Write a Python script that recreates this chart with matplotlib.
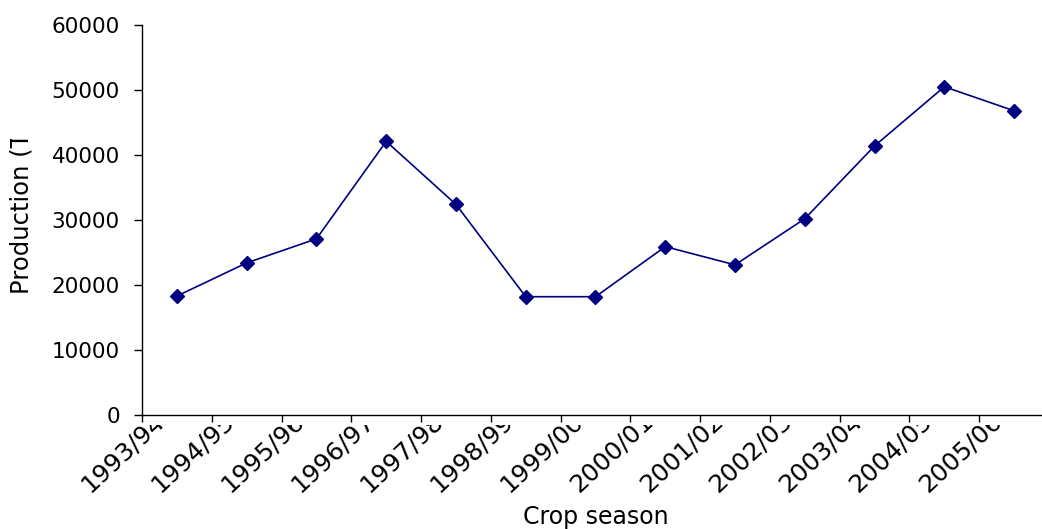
import matplotlib.pyplot as plt
from matplotlib.transforms import Bbox, ScaledTranslation, blended_transform_factory
from matplotlib.ticker import FixedLocator, MultipleLocator, NullFormatter

# Data
seasons = ['1993/94', '1994/95', '1995/96', '1996/97', '1997/98', '1998/99',
           '1999/00', '2000/01', '2001/02', '2002/03', '2003/04', '2004/05',
           '2005/06']
production = [18300, 23400, 27100, 42100, 32400, 18200, 18200,
              25900, 23100, 30200, 41400, 50500, 46800]

W, H = 1042, 529
plt.rcParams['font.family'] = ['DejaVu Sans']

fig = plt.figure(figsize=(W / 100, H / 100), dpi=100)
# axes right edge runs slightly past the picture, like the source image
ax = fig.add_axes([142 / W, 1 - 415 / H, 907 / W, 390 / H])

x = list(range(len(seasons)))
ax.plot(x, production, color='#000080', lw=1.2, marker='D', ms=7,
        markerfacecolor='#000080', markeredgecolor='#000080')

ax.set_xlim(-0.5, len(seasons) - 0.5)
ax.set_ylim(0, 60000)
ax.yaxis.set_major_locator(MultipleLocator(10000))
ax.tick_params(axis='y', direction='out', length=6, width=1, pad=10,
               labelsize=15.5)

# x ticks sit between categories, labels drawn separately
ax.xaxis.set_major_locator(FixedLocator([i - 0.5 for i in range(len(seasons) + 1)]))
ax.xaxis.set_major_formatter(NullFormatter())
ax.tick_params(axis='x', direction='out', length=5, width=1)

for s in ['top', 'right']:
    ax.spines[s].set_visible(False)
for s in ['left', 'bottom']:
    ax.spines[s].set_linewidth(1)

# rotated category labels, clipped just under the axis like the original
trans = blended_transform_factory(ax.transData, ax.transAxes) + \
    ScaledTranslation(-87 / 100, -78 / 100, fig.dpi_scale_trans)
label_clip = Bbox.from_extents(0, 0, W, H - 425)
for i, lab in enumerate(seasons):
    t = ax.text(i, 0, lab, transform=trans, rotation=43,
                rotation_mode='anchor', ha='left', va='baseline',
                fontsize=18, clip_on=True)
    t.set_clip_box(label_clip)

fig.text(596 / W, 1 - 517 / H, 'Crop season', ha='center', va='center',
         fontsize=17)
yl = fig.text(22 / W, 1 - 294 / H, 'Production (Tonnes)', rotation=90,
              ha='center', va='bottom', fontsize=17.5, clip_on=True)
yl.set_clip_box(Bbox.from_extents(0, 0, W, H - 139))

fig.savefig('out.png', dpi=100)
